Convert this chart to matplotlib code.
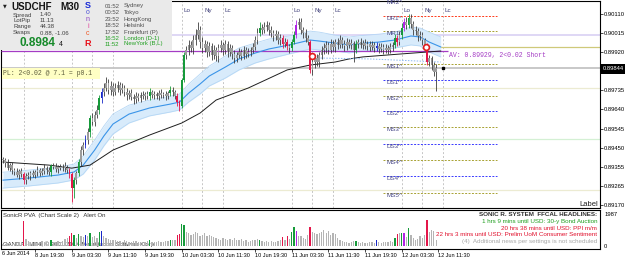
import numpy as np
import matplotlib.pyplot as plt
from matplotlib.patches import Rectangle

plt.rcParams['font.family'] = ['Liberation Sans', 'DejaVu Sans']

W, H = 625, 259

# USDCHF M30 bars, prices in points (1 point = 0.00001), oldest first
closes = [
    89391, 89376, 89351, 89366, 89342, 89332, 89317, 89337, 89322, 89292,
    89312, 89312, 89327, 89317, 89332, 89342, 89327, 89337, 89351, 89342,
    89332, 89361, 89356, 89347, 89356, 89351, 89361, 89351, 89342, 89322,
    89253, 89292, 89327, 89381, 89440, 89465, 89489, 89529, 89597, 89578,
    89612, 89637, 89696, 89725, 89745, 89770, 89735, 89755, 89725, 89745,
    89760, 89735, 89745, 89725, 89711, 89720, 89701, 89691, 89706, 89696,
    89711, 89706, 89716, 89706, 89725, 89711, 89716, 89706, 89720, 89711,
    89716, 89706, 89720, 89735, 89725, 89706, 89676, 89657, 89784, 89907,
    89932, 89957, 89942, 89981, 90006, 90030, 89971, 89942, 89962, 89922,
    89952, 89907, 89932, 89902, 89942, 89957, 89932, 89962, 89922, 89942,
    89912, 89893, 89907, 89922, 89902, 89932, 89912, 89922, 89932, 89947,
    89981, 90016, 90040, 90030, 90045, 90055, 90030, 90016, 90001, 90011,
    89981, 89991, 89962, 89971, 89952, 89942, 89971, 90006, 90055, 90070,
    90030, 90016, 89991, 89971, 89834, 89873, 89893, 89873, 89907, 89932,
    89942, 89957, 89932, 89962, 89947, 89971, 89957, 89981, 89962, 89952,
    89971, 89957, 89966, 89932, 89962, 89971, 89957, 89966, 89952, 89962,
    89947, 89957, 89942, 89952, 89937, 89947, 89932, 89942, 89932, 89947,
    89957, 89991, 89971, 90006, 90040, 90070, 90055, 90089, 90060, 90030,
    90025, 90001, 90006, 89981, 89957, 89873, 89893, 89858, 89824, 89844,
]
wick_up = [
    15, 10, 20, 10, 15, 10, 20, 10, 15, 10,
    15, 20, 10, 15, 10, 20, 10, 15, 20, 10,
    15, 10, 15, 20, 10, 15, 10, 20, 15, 10,
    10, 15, 10, 15, 20, 15, 25, 20, 15, 25,
    20, 25, 15, 20, 25, 30, 20, 25, 15, 25,
    20, 15, 25, 15, 20, 15, 20, 15, 20, 15,
    15, 20, 10, 15, 20, 10, 15, 10, 15, 20,
    10, 15, 10, 20, 15, 10, 15, 10, 10, 15,
    20, 25, 20, 25, 30, 40, 20, 25, 20, 15,
    20, 15, 25, 15, 20, 25, 15, 20, 15, 20,
    15, 20, 15, 20, 15, 20, 15, 20, 15, 20,
    20, 25, 30, 20, 25, 20, 15, 20, 15, 20,
    15, 20, 15, 20, 15, 10, 15, 20, 25, 20,
    20, 15, 20, 15, 10, 20, 15, 20, 15, 20,
    25, 20, 15, 25, 20, 15, 20, 25, 15, 20,
    20, 15, 20, 10, 20, 15, 20, 15, 20, 15,
    15, 20, 15, 20, 15, 20, 15, 20, 15, 20,
    15, 20, 15, 20, 25, 20, 25, 20, 20, 15,
    20, 15, 20, 15, 10, 10, 15, 10, 15, 20,
]
wick_dn = [
    15, 20, 10, 15, 20, 15, 10, 20, 15, 20,
    20, 15, 20, 10, 15, 20, 15, 10, 15, 20,
    15, 20, 10, 15, 20, 10, 15, 20, 15, 20,
    70, 50, 20, 15, 20, 25, 15, 20, 25, 15,
    20, 15, 20, 25, 20, 15, 20, 25, 20, 15,
    20, 25, 15, 20, 25, 20, 15, 25, 20, 15,
    20, 15, 20, 15, 20, 15, 20, 15, 20, 15,
    15, 20, 15, 15, 20, 15, 20, 25, 10, 10,
    20, 25, 20, 30, 25, 20, 30, 25, 20, 25,
    20, 25, 20, 25, 30, 20, 25, 20, 25, 20,
    25, 25, 20, 15, 20, 15, 20, 15, 20, 15,
    15, 20, 15, 20, 15, 20, 25, 20, 25, 20,
    20, 25, 20, 15, 20, 25, 15, 10, 15, 20,
    20, 25, 20, 15, 15, 25, 30, 20, 25, 20,
    20, 25, 20, 15, 20, 25, 20, 15, 20, 25,
    20, 15, 20, 60, 15, 20, 15, 20, 15, 20,
    20, 15, 20, 15, 20, 15, 20, 15, 20, 15,
    20, 15, 20, 15, 20, 15, 20, 15, 20, 25,
    20, 25, 20, 25, 20, 15, 20, 25, 20, 95,
]
# PVA colour class per bar: n normal, g bull climax, r bear climax, b/m rising volume
bar_colors = (
    "nnnnnnnnnr" "nnnnnnnnnn" "ngnnnnnnnr" "rgngnnbngn" "nngbnnnnnn"
    "nnnnnnnnnn" "nnnngnnnnn" "nnngnnrrgg" "nnnnnnnnnn" "nnnnnnnnnn"
    "nnnnnnnnnn" "nngnnnnnnn" "nnrnrnggmn" "nnnnrnnnnn" "nnnnnnnnnn"
    "nnnngnnnnn" "nnnbnnnnnn" "ngrngmngnn" "nnnnnrnnnn"
)
volumes = [
    150, 120, 180, 140, 160, 130, 200, 170, 250, 1600,
    450, 300, 250, 280, 220, 260, 240, 300, 270, 230,
    250, 350, 280, 260, 300, 270, 320, 450, 500, 650,
    800, 700, 500, 750, 600, 550, 700, 600, 800, 550,
    600, 500, 900, 950, 600, 500, 450, 400, 350, 380,
    320, 300, 280, 350, 300, 260, 280, 320, 300, 270,
    250, 280, 260, 300, 350, 280, 250, 270, 300, 260,
    280, 300, 320, 380, 350, 400, 700, 750, 1400, 1300,
    900, 850, 700, 750, 900, 800, 650, 700, 850, 600,
    700, 650, 550, 500, 450, 400, 480, 420, 380, 450,
    400, 500, 350, 380, 420, 300, 350, 280, 320, 350,
    400, 450, 350, 300, 280, 320, 260, 300, 250, 280,
    300, 350, 550, 400, 650, 450, 900, 1200, 950, 600,
    600, 500, 450, 700, 1200, 900, 800, 750, 850, 900,
    1000, 800, 950, 700, 850, 750, 500, 350, 300, 250,
    220, 200, 250, 300, 300, 220, 200, 250, 180, 200,
    220, 250, 200, 350, 230, 200, 250, 220, 260, 300,
    280, 500, 750, 800, 850, 800, 550, 1150, 700, 500,
    400, 450, 600, 500, 700, 1650, 900, 1000, 950, 400,
]

# dragon ribbon and long moving average
ribbon_bars = [0, 11, 24, 31, 35, 40, 44, 48, 55, 64, 73, 77, 81, 86, 90, 97,
               103, 110, 116, 125, 134, 138, 145, 151, 158, 164, 171, 178, 182, 186, 191]
ribbon_mid = [89292, 89302, 89317, 89332, 89366, 89440, 89509, 89568, 89617, 89647,
              89666, 89676, 89720, 89765, 89804, 89848, 89888, 89917, 89937, 89957,
              89981, 89976, 89966, 89957, 89966, 89971, 89981, 90001, 89996, 89971, 89947]
ribbon_hi = [89331, 89341, 89356, 89371, 89410, 89489, 89558, 89617, 89661, 89686,
             89705, 89715, 89764, 89814, 89853, 89902, 89942, 89966, 89986, 90001,
             90025, 90020, 90005, 89996, 90005, 90010, 90020, 90045, 90040, 90020, 89996]
ribbon_lo = [89253, 89263, 89278, 89293, 89322, 89391, 89460, 89519, 89573, 89608,
             89627, 89637, 89676, 89716, 89755, 89794, 89834, 89868, 89888, 89913,
             89937, 89932, 89927, 89918, 89927, 89932, 89942, 89957, 89952, 89922, 89898]
ma_bars = [0, 20, 30, 38, 48, 64, 78, 86, 93, 107, 124, 134, 145, 151, 157, 173, 191]
ma_vals = [89381, 89366, 89351, 89366, 89440, 89514, 89573, 89622, 89686, 89745,
           89834, 89858, 89873, 89888, 89898, 89912, 89927]
dot_bars = [136, 160, 191]
dot_vals = [89893, 89888, 89873]

# levels
bid = 89844
av_price = 89929
entry_price = 89945
lavender_lvl = 90006
green_lvl = 89494
beige_lvls = [89747, 89243]
piv_names = ["MR2^", "DR1^", "MR1^", "MS1^", "DS1^", "MS2^", "DS2^",
             "MS3^", "DS3^", "MS4^", "DS4^", "MS5^", "DS5^"]
piv_prices = [90178, 90099, 90025, 89863, 89784, 89706, 89632,
              89553, 89470, 89391, 89312, 89228, 89155]
signal_bars = [135, 184.5]
signal_prices = [89902, 89945]

# sessions (bar index)
week_open = [9]
lo_bars = [30, 78, 126, 174]
ny_bars = [39, 87, 135, 183]
lc_bars = [48, 96, 144, 192]

price_ticks = [0.90110, 0.90015, 0.89920, 0.89735, 0.89640, 0.89545,
               0.89450, 0.89355, 0.89265, 0.89170]
time_bars = [14, 30, 46, 62, 78, 94, 110, 126, 142, 158, 174, 190]
time_labels = ["8 Jun 19:30", "9 Jun 03:30", "9 Jun 11:30", "9 Jun 19:30",
               "10 Jun 03:30", "10 Jun 11:30", "10 Jun 19:30", "11 Jun 03:30",
               "11 Jun 11:30", "11 Jun 19:30", "12 Jun 03:30", "12 Jun 11:30"]

headlines = [("SONIC R. SYSTEM  FFCAL HEADLINES:", '#303030', 'bold'),
             ("1 hrs 9 mins until USD: 30-y Bond Auction", '#1e9e1e', 'normal'),
             ("20 hrs 38 mins until USD: PPI m/m", '#e0102c', 'normal'),
             ("22 hrs 3 mins until USD: Prelim UoM Consumer Sentiment", '#e0102c', 'normal'),
             ("(4)  Additional news per settings is not scheduled", '#a8a8a8', 'normal')]
sessions = [("01:52", "Sydney"), ("00:52", "Tokyo"), ("23:52", "HongKong"),
            ("18:52", "Helsinki"), ("17:52", "Frankfurt (P)"),
            ("16:52", "London (D-1)"), ("11:52", "NewYork (B,L)")]
info_rows = [("Spread", "1.40"), ("LotPip", "11.13"), ("Range", "44.38"),
             ("Swaps", "0.88, -1.06")]


def fx(x):
    return x / W


def fy(y):
    return 1 - y / H


P = 1e5
fig = plt.figure(figsize=(W / 100, H / 100), dpi=100)
ax = fig.add_axes([fx(1), fy(208), fx(600) - fx(1), fy(1) - fy(208)])
ax2 = fig.add_axes([fx(1), fy(249), fx(600) - fx(1), fy(210) - fy(249)])
xlim = (-0.87, 260.5)

# background levels
ax.axhline(lavender_lvl / P, color='#dcd4f4', lw=1.3, zorder=1)
ax.axhline(green_lvl / P, color='#d4f0d4', lw=0.9, zorder=1)
for b in beige_lvls:
    ax.axhline(b / P, color='#ecebd2', lw=0.9, zorder=1)
ax.axhline(bid / P, color='#c4c4c4', lw=1.3, zorder=1)
ax.hlines(av_price / P, xlim[0], 194, color='#a43cc4', lw=0.9, zorder=3)
ax.hlines(entry_price / P, 185, xlim[1], color='#cfc97a', lw=0.9, zorder=2)

for b in week_open + lo_bars + ny_bars + lc_bars:
    ax.axvline(b, color='#c6c6c6', lw=0.7, ls=(0, (2, 2)), zorder=1)
# labels of the first day sit under the info box, so only the visible days are labelled
for bars, name in [(lo_bars, "Lo"), (ny_bars, "Ny"), (lc_bars, "Lc")]:
    for b in bars[1:]:
        ax.text(b + 0.8, 0.952, name, transform=ax.get_xaxis_transform(),
                fontsize=4.5, color='#40407a', va='center', ha='left')

# pivot levels
for name, p in zip(piv_names, piv_prices):
    col = '#ff3a1a' if name.startswith('DR') else ('#3a3aff' if name.startswith('DS') else '#a8a232')
    ax.hlines(p / P, 166, 215.5, color=col, lw=0.7, ls=(0, (2, 1.5)), zorder=2)
    if p > 89170:
        ax.text(167.3, p / P, name, fontsize=4.5, color='#4a4a8a', va='top', ha='left',
                clip_on=False, zorder=6)

# ribbon and MA
ax.fill_between(ribbon_bars, np.array(ribbon_lo) / P, np.array(ribbon_hi) / P,
                color='#d8ebfb', lw=0, zorder=2)
ax.plot(ribbon_bars, np.array(ribbon_hi) / P, color='#b5d7f5', lw=0.6, zorder=2)
ax.plot(ribbon_bars, np.array(ribbon_lo) / P, color='#b5d7f5', lw=0.6, zorder=2)
ax.plot(ribbon_bars, np.array(ribbon_mid) / P, color='#3a94e8', lw=0.8, zorder=3)
ax.plot(ma_bars, np.array(ma_vals) / P, color='#1e1e1e', lw=0.7, zorder=3)
ax.plot(dot_bars, np.array(dot_vals) / P, color='#8ab8f0', lw=0.7, ls=(0, (1.5, 1.5)), zorder=3)

# candles
palette = {'n': '#9c9c9c', 'g': '#169a3a', 'r': '#e4164a', 'b': '#1828c8', 'm': '#b024e4'}
wick_pal = {'n': '#3c3c3c', 'g': '#169a3a', 'r': '#e4164a', 'b': '#1828c8', 'm': '#b024e4'}
c = np.array(closes) / P
o = np.r_[c[0], c[:-1]]
hi = np.maximum(o, c) + np.array(wick_up) / P
lo = np.minimum(o, c) - np.array(wick_dn) / P
x = np.arange(len(c))
ax.vlines(x, lo, hi, colors=[wick_pal[k] for k in bar_colors], lw=0.6, zorder=4)
ax.bar(x, np.maximum(np.abs(c - o), 4 / P), bottom=np.minimum(o, c), width=0.75,
       color=[palette[k] for k in bar_colors], lw=0, zorder=5)

ax.plot(signal_bars, np.array(signal_prices) / P, 'o', ms=4.2, mfc='white',
        mec='#e21c1c', mew=1.2, zorder=7)
ax.plot([192], [bid / P], 's', ms=1.8, color='black', zorder=7)

ax.set_xlim(*xlim)
ax.set_ylim(0.89155, 0.90173)
ax.set_xticks([])
ax.yaxis.tick_right()
ax.set_yticks(price_ticks)
ax.set_yticklabels([f"{t:.5f}" for t in price_ticks])
ax.tick_params(axis='y', length=2, width=0.5, pad=1, labelsize=4.2)
for s in ax.spines.values():
    s.set_linewidth(0.8)

# volume panel
ax2.bar(x, volumes, width=0.55, color=[palette[k] if k != 'n' else '#b4b4b4' for k in bar_colors],
        lw=0, zorder=3)
ax2.set_xlim(*xlim)
ax2.set_ylim(-190, 2270)
ax2.yaxis.tick_right()
ax2.set_yticks([0, 1987])
ax2.set_yticklabels(["0", "1987"])
ax2.set_xticks(time_bars)
ax2.set_xticklabels(time_labels)
for lab in ax2.get_xticklabels():
    lab.set_ha('left')
ax2.tick_params(axis='y', length=0, pad=3, labelsize=4.2)
ax2.tick_params(axis='x', length=2, width=0.5, pad=1, labelsize=4.0)
for s in ax2.spines.values():
    s.set_linewidth(0.8)
ax2.text(fx(3), fy(216), "SonicR PVA  (Chart Scale 2)   Alert On", transform=fig.transFigure,
         fontsize=4.3, color='#303030', va='center', zorder=1)
ax2.text(fx(3), fy(244), "OANDA - MT4, \u00a9 2001-2014 MetaQuotes Software Corp.",
         transform=fig.transFigure, fontsize=4.3, color='#303030', va='center', zorder=1)
fig.text(fx(2), fy(253.5), "6 Jun 2014", fontsize=4.0, va='center', ha='left')

for k, (txt, col, wt) in enumerate(headlines):
    fig.text(fx(597), fy(215 + 6.5 * k), txt, fontsize=4.5, color=col, fontweight=wt,
             ha='right', va='center', zorder=5)

# info box
fig.patches.append(Rectangle((0, fy(50)), fx(172), 50 / H, transform=fig.transFigure,
                             facecolor='#eaeaea', edgecolor='none', zorder=1))
fig.text(fx(3), fy(6), "\u25bc", fontsize=3.5, va='center', ha='left', color='#202020',
         family=['DejaVu Sans'])
fig.text(fx(11), fy(7), "USDCHF", fontsize=7, fontweight='bold', va='center', color='#141414')
fig.text(fx(60), fy(7), "M30", fontsize=7, fontweight='bold', va='center', color='#141414')
for k, (lab, val) in enumerate(info_rows):
    fig.text(fx(13), fy(15 + 5.8 * k), lab, fontsize=4.3, va='center', color='#404040')
    fig.text(fx(40), fy(15 + 5.8 * k), val, fontsize=4.3, va='center', color='#404040')
fig.text(fx(19), fy(43.5), "0.8984", fontsize=8.5, fontweight='bold', va='center', color='#168a2a')
fig.text(fx(59), fy(45), "4", fontsize=5, va='center', color='#141414')
sonic = [("S", '#1a2bd6', 6, 6.5, 'bold'), ("o", '#4f55d8', 12.7, 5, 'normal'),
         ("n", '#8a44c4', 19.3, 5, 'normal'), ("i", '#e0409a', 26, 5, 'normal'),
         ("c", '#f05a28', 33.3, 5, 'normal'), ("R", '#e8101a', 43.3, 6.5, 'bold')]
for ch, col, yy, fs, wt in sonic:
    fig.text(fx(88), fy(yy), ch, fontsize=fs, fontweight=wt, color=col, ha='center', va='center')
for k, (t, name) in enumerate(sessions):
    col = '#22a022' if k >= 5 else '#505050'
    yy = [6, 12.7, 19.3, 25.7, 32.3, 38.3, 44][k]
    fig.text(fx(105), fy(yy), t, fontsize=4.3, va='center', color=col)
    fig.text(fx(124), fy(yy), name, fontsize=4.3, va='center', color=col)

# strategy texts
fig.patches.append(Rectangle((fx(2), fy(78.5)), fx(100) - fx(2), 10 / H, transform=fig.transFigure,
                             facecolor='#ffffc4', edgecolor='none', zorder=1))
fig.text(fx(3), fy(73.5), "PL: 2<0.02 @ 7.1 = p0.1", fontsize=4.7, family='Liberation Mono',
         color='#5c5c3c', va='center')
fig.text(fx(449), fy(56), "AV: 0.89929, 2<0.02 Short", fontsize=4.7, family='Liberation Mono',
         color='#a43cc4', va='center')
fig.text(fx(598), fy(204), "Label", fontsize=5.5, color='#202020', ha='right', va='center')

# current price box
fig.patches.append(Rectangle((fx(601), fy(73.5)), fx(24), 9 / H, transform=fig.transFigure,
                             facecolor='black', edgecolor='none', zorder=2))
fig.text(fx(602.5), fy(69), f"{bid / P:.5f}", fontsize=4.2, color='white', va='center', zorder=3)

fig.savefig('out.png', dpi=100)
